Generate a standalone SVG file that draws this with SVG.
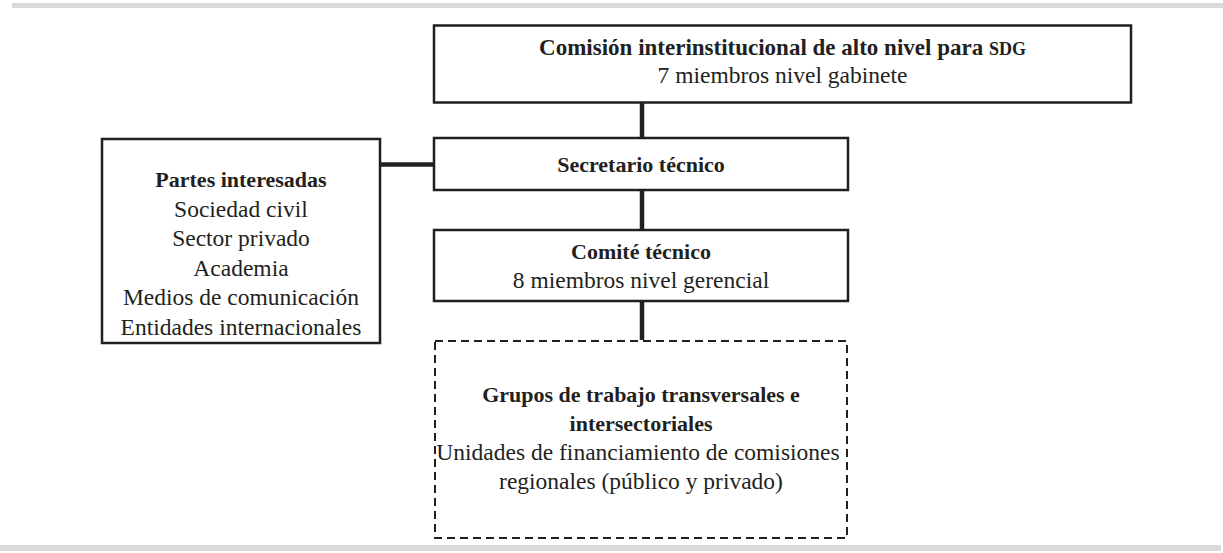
<svg xmlns="http://www.w3.org/2000/svg" width="1223" height="553" viewBox="0 0 1223 553">
<style>
.box{fill:#fff;stroke:#231f20;stroke-width:2.5}
.dash{fill:#fff;stroke:#231f20;stroke-width:2;stroke-dasharray:8 5}
.con{stroke:#231f20;stroke-width:4.5;fill:none}
text{font-family:"Liberation Serif","Times New Roman",serif;font-size:23.5px;fill:#231f20;text-anchor:middle}
.b{font-weight:bold;font-size:22px}
.t{font-size:23px}
.sc{font-size:18px}
.bar{fill:#d9d9d9}
</style>
<rect class="bar" x="12" y="3" width="1211" height="5"/>
<rect class="bar" x="0" y="545" width="1221" height="6"/>
<g id="connectors">
<line class="con" x1="642" y1="102" x2="642" y2="138"/>
<line class="con" x1="380" y1="164.5" x2="434" y2="164.5"/>
<line class="con" x1="642" y1="190" x2="642" y2="230"/>
<line class="con" x1="642" y1="301" x2="642" y2="340"/>
</g>
<g id="comision">
<rect class="box" x="434" y="25.5" width="697" height="77"/>
<text x="782.5" y="55" class="b t">Comisión interinstitucional de alto nivel para <tspan class="sc">SDG</tspan></text>
<text x="782.5" y="83">7 miembros nivel gabinete</text>
</g>
<g id="secretario">
<rect class="box" x="434" y="138" width="414" height="52"/>
<text x="641" y="171.5" class="b">Secretario técnico</text>
</g>
<g id="partes">
<rect class="box" x="102" y="139" width="278" height="204"/>
<text x="241" y="187" class="b">Partes interesadas</text>
<text x="241" y="216.5">Sociedad civil</text>
<text x="241" y="246">Sector privado</text>
<text x="241" y="275.5">Academia</text>
<text x="241" y="305">Medios de comunicación</text>
<text x="241" y="334.5">Entidades internacionales</text>
</g>
<g id="comite">
<rect class="box" x="434" y="230" width="414" height="71"/>
<text x="641" y="259" class="b">Comité técnico</text>
<text x="641" y="288">8 miembros nivel gerencial</text>
</g>
<g id="grupos">
<rect class="dash" x="435" y="341" width="412" height="197"/>
<text x="641" y="402" class="b">Grupos de trabajo transversales e</text>
<text x="641" y="431" class="b">intersectoriales</text>
<text x="638" y="460">Unidades de financiamiento de comisiones</text>
<text x="641" y="489">regionales (público y privado)</text>
</g>
</svg>
